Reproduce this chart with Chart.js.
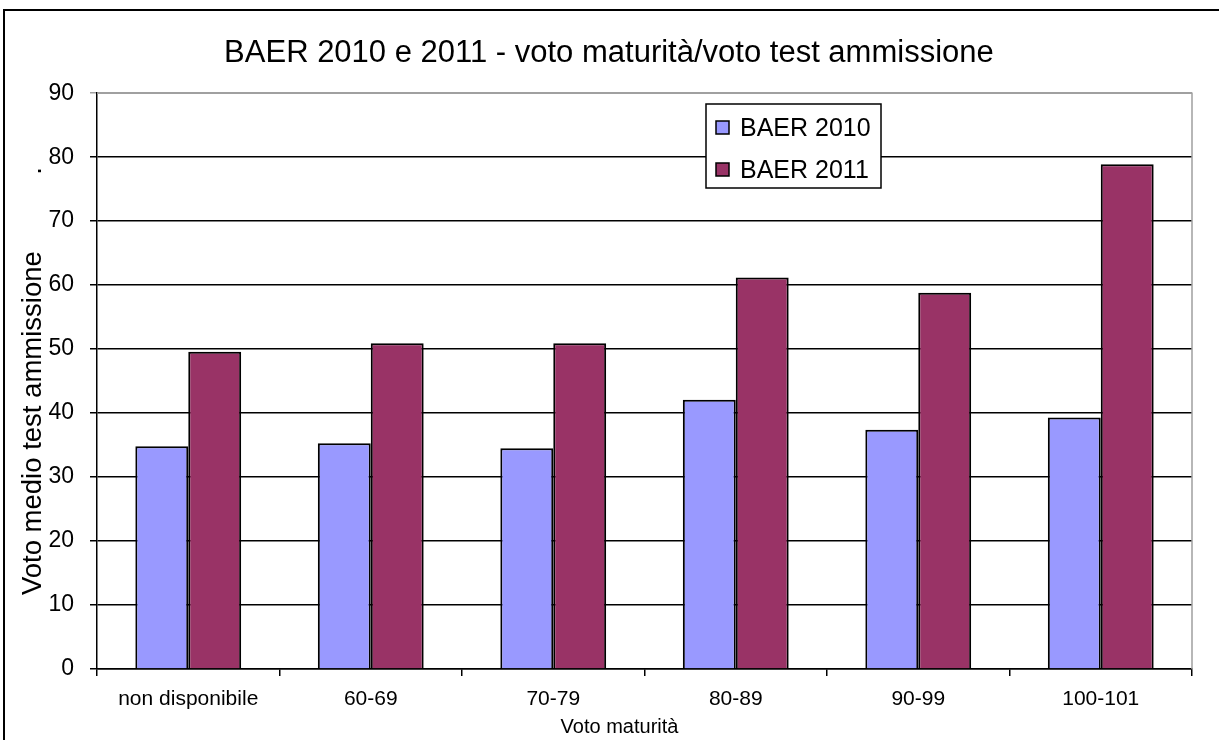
<!DOCTYPE html>
<html>
<head>
<meta charset="utf-8">
<script src="https://cdn.jsdelivr.net/npm/chart.js@4"></script>
<style>
  html, body { margin: 0; padding: 0; background: #fff; overflow: hidden; }
  #wrap { position: relative; width: 1219px; height: 740px; }
  #frame { position: absolute; left: 3px; top: 9px; width: 1240px; height: 760px; border: 2px solid #000; pointer-events: none; }
  canvas { position: absolute; left: 0; top: 0; }
</style>
</head>
<body>
<div id="wrap">
  <canvas id="chart" width="1219" height="740"></canvas>
  <div id="frame"></div>
</div>
<script>
// categories and values
const categories = ['non disponibile', '60-69', '70-79', '80-89', '90-99', '100-101'];
const baer2010 = [34.8, 35.3, 34.5, 42.1, 37.4, 39.3];
const baer2011 = [49.6, 50.9, 50.9, 61.2, 58.8, 78.9];
const yTicks = [0, 10, 20, 30, 40, 50, 60, 70, 80, 90];

const FONT = "'Liberation Sans', Arial, sans-serif";

// plot frame: gray top and right edges
const plotFrame = {
    id: 'plotFrame',
    beforeDatasetsDraw(chart) {
        const { ctx, chartArea: a } = chart;
        ctx.save();
        ctx.strokeStyle = '#a0a0a0';
        ctx.lineWidth = 1.5;
        ctx.beginPath();
        ctx.moveTo(a.left, a.top);
        ctx.lineTo(a.right, a.top);
        ctx.lineTo(a.right, a.bottom);
        ctx.stroke();
        ctx.restore();
    }
};

// legend box inside the plot, as in the original
const boxLegend = {
    id: 'boxLegend',
    afterDraw(chart) {
        const ctx = chart.ctx;
        const x = 706, y = 104, w = 175, h = 84;
        ctx.save();
        ctx.fillStyle = '#fff';
        ctx.fillRect(x, y, w, h);
        ctx.strokeStyle = '#000';
        ctx.lineWidth = 1.5;
        ctx.strokeRect(x, y, w, h);
        ctx.font = '25px ' + FONT;
        ctx.textBaseline = 'middle';
        chart.data.datasets.forEach((ds, i) => {
            const cy = y + 24 + i * 42;
            ctx.fillStyle = ds.backgroundColor;
            ctx.fillRect(x + 10, cy - 7, 13, 13);
            ctx.strokeStyle = '#000';
            ctx.lineWidth = 1.5;
            ctx.strokeRect(x + 10, cy - 7, 13, 13);
            ctx.fillStyle = '#000';
            ctx.fillText(ds.label, x + 34, cy + 1);
        });
        ctx.restore();
    }
};

const ctx = document.getElementById('chart').getContext('2d');
new Chart(ctx, {
    type: 'bar',
    data: {
        labels: categories,
        datasets: [{
            label: 'BAER 2010',
            data: baer2010,
            backgroundColor: '#9999ff',
            borderColor: '#000',
            borderWidth: 2
        }, {
            label: 'BAER 2011',
            data: baer2011,
            backgroundColor: '#993366',
            borderColor: '#000',
            borderWidth: 2
        }]
    },
    options: {
        responsive: false,
        animation: false,
        layout: { padding: { left: 0, right: 27, top: 0, bottom: 0 } },
        datasets: { bar: { categoryPercentage: 0.58, barPercentage: 1 } },
        plugins: {
            legend: { display: false },
            tooltip: { enabled: false },
            title: {
                display: true,
                text: '   BAER 2010 e 2011 - voto maturità/voto test ammissione',
                color: '#000',
                font: { family: FONT, size: 31, weight: 'normal' },
                padding: { top: 35, bottom: 21 }
            }
        },
        scales: {
            x: {
                afterFit: s => { s.height = 71; },
                grid: { display: true, drawOnChartArea: false, offset: true, tickLength: 7, color: '#000', lineWidth: 1.5 },
                border: { display: true, color: '#000', width: 1.5 },
                ticks: { color: '#000', font: { family: FONT, size: 21 }, padding: 11, maxRotation: 0 },
                title: {
                    display: true,
                    text: 'Voto maturità         ',
                    color: '#000',
                    font: { family: FONT, size: 20 },
                    padding: { top: 0, bottom: 1 }
                }
            },
            y: {
                min: 0,
                max: 90,
                afterFit: s => { s.width = 97; },
                afterBuildTicks: s => { s.ticks = yTicks.map(v => ({ value: v })); },
                grid: {
                    color: c => (c.tick && c.tick.value === 90) ? '#a0a0a0' : '#000',
                    lineWidth: 1.5,
                    tickLength: 7
                },
                border: { display: true, color: '#000', width: 1.5 },
                ticks: { color: '#000', font: { family: FONT, size: 23 }, padding: 16 },
                title: {
                    display: true,
                    text: 'Voto medio test ammissione          .',
                    color: '#000',
                    font: { family: FONT, size: 27.5 },
                    padding: { top: 17, bottom: 0 }
                }
            }
        }
    },
    plugins: [plotFrame, boxLegend]
});
</script>
</body>
</html>
